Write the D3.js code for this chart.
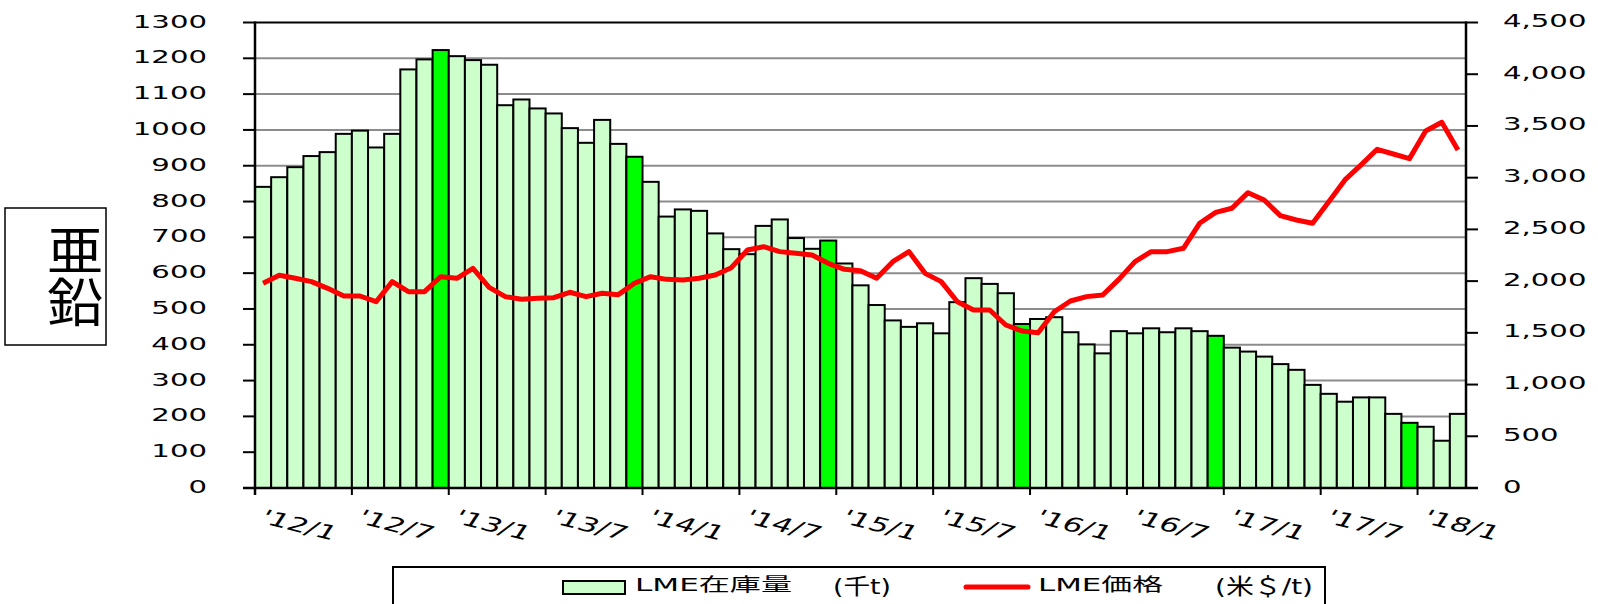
<!DOCTYPE html>
<html lang="ja">
<head>
<meta charset="UTF-8">
<title>亜鉛</title>
<script src="https://d3js.org/d3.v7.min.js"></script>
<style>
  body { margin: 0; background: #fff; }
  text { font-family: "DejaVu Sans", "Noto Sans CJK JP", sans-serif; fill: #000; }
</style>
</head>
<body>
<svg id="chart" width="1598" height="604"></svg>
<script>
// months Jan 2012 - Mar 2018
const months = [
  "12/1","12/2","12/3","12/4","12/5","12/6","12/7","12/8","12/9","12/10","12/11","12/12",
  "13/1","13/2","13/3","13/4","13/5","13/6","13/7","13/8","13/9","13/10","13/11","13/12",
  "14/1","14/2","14/3","14/4","14/5","14/6","14/7","14/8","14/9","14/10","14/11","14/12",
  "15/1","15/2","15/3","15/4","15/5","15/6","15/7","15/8","15/9","15/10","15/11","15/12",
  "16/1","16/2","16/3","16/4","16/5","16/6","16/7","16/8","16/9","16/10","16/11","16/12",
  "17/1","17/2","17/3","17/4","17/5","17/6","17/7","17/8","17/9","17/10","17/11","17/12",
  "18/1","18/2","18/3"
];
// LME stock (千t)
const stock = [
  841,868,896,927,938,989,998,951,989,1169,1197,1223,
  1206,1195,1182,1069,1085,1060,1046,1005,964,1028,961,925,
  855,758,778,774,711,667,653,732,750,698,668,691,
  627,566,511,468,450,460,432,519,586,570,544,458,
  472,477,435,401,376,438,432,446,435,446,438,425,
  392,381,367,346,330,288,263,241,253,253,207,182,
  171,132,207
];
// LME price (米$/t)
const price = [
  1979,2056,2027,1995,1930,1856,1856,1801,1995,1898,1898,2043,
  2027,2124,1940,1850,1824,1834,1840,1892,1850,1882,1869,1979,
  2043,2017,2011,2027,2059,2130,2301,2333,2285,2269,2253,2172,
  2114,2101,2027,2188,2285,2075,1995,1801,1721,1721,1576,1518,
  1501,1704,1808,1850,1866,2017,2188,2285,2285,2317,2559,2665,
  2704,2855,2784,2633,2591,2559,2768,2978,3123,3274,3229,3184,
  3451,3535,3268
];
const tickMonths = ["12/1","12/7","13/1","13/7","14/1","14/7","15/1","15/7","16/1","16/7","17/1","17/7","18/1"];
const tickLabels = ["'12/1","'12/7","'13/1","'13/7","'14/1","'14/7","'15/1","'15/7","'16/1","'16/7","'17/1","'17/7","'18/1"];
const leftTicks = d3.range(0, 1301, 100);
const rightTicks = d3.range(0, 4501, 500);

const svg = d3.select("#chart");
const pL = 255, pR = 1466, pT = 22.5, pB = 488;
const sx = 1.62; // the original text is wide

const x = d3.scaleBand().domain(months).range([pL, pR]).padding(0);
const y = d3.scaleLinear().domain([0, 1300]).range([pB, pT]);
const y2 = d3.scaleLinear().domain([0, 4500]).range([pB, pT]);

// grid
svg.append("g").selectAll("line").data(leftTicks.filter(d => d > 0 && d < 1300)).join("line")
  .attr("x1", pL).attr("x2", pR)
  .attr("y1", d => y(d)).attr("y2", d => y(d))
  .attr("stroke", "#8c8c8c").attr("stroke-width", 2);

// bars
svg.append("g").selectAll("rect").data(months).join("rect")
  .attr("x", d => x(d)).attr("width", x.bandwidth())
  .attr("y", (d, i) => y(stock[i])).attr("height", (d, i) => pB - y(stock[i]))
  .attr("fill", d => d.endsWith("/12") ? "#00ff00" : "#ccffcc")
  .attr("stroke", "#000").attr("stroke-width", 2);

// price line
const line = d3.line().x((d, i) => x(months[i]) + x.bandwidth() / 2).y(d => y2(d));
svg.append("path").datum(price).attr("d", line)
  .attr("fill", "none").attr("stroke", "#ff0000").attr("stroke-width", 5)
  .attr("stroke-linejoin", "round");

// frame / axes
const ax = svg.append("g").attr("stroke", "#000");
ax.append("line").attr("x1", pL).attr("x2", pR).attr("y1", pT).attr("y2", pT).attr("stroke-width", 2);
ax.append("line").attr("x1", pL).attr("x2", pL).attr("y1", pT - 1).attr("y2", pB + 7).attr("stroke-width", 2.5);
ax.append("line").attr("x1", pR).attr("x2", pR).attr("y1", pT - 1).attr("y2", pB).attr("stroke-width", 2.5);
ax.append("line").attr("x1", pL - 12).attr("x2", pR + 12).attr("y1", pB).attr("y2", pB).attr("stroke-width", 2.5);

ax.selectAll(".lt").data(leftTicks).join("line").attr("class", "lt")
  .attr("x1", pL - 12).attr("x2", pL).attr("y1", d => y(d)).attr("y2", d => y(d)).attr("stroke-width", 2);
ax.selectAll(".rt").data(rightTicks).join("line").attr("class", "rt")
  .attr("x1", pR).attr("x2", pR + 12).attr("y1", d => y2(d)).attr("y2", d => y2(d)).attr("stroke-width", 2);
ax.selectAll(".bt").data(tickMonths).join("line").attr("class", "bt")
  .attr("x1", d => x(d)).attr("x2", d => x(d)).attr("y1", pB).attr("y2", pB + 7).attr("stroke-width", 2);

// tick labels
svg.append("g").selectAll("text").data(leftTicks).join("text")
  .attr("transform", d => `translate(207,${y(d) + 5}) scale(${sx},1)`)
  .attr("text-anchor", "end").attr("font-size", 18).text(d => d);

const fmt = d3.format(",");
svg.append("g").selectAll("text").data(rightTicks).join("text")
  .attr("transform", d => `translate(1503,${y2(d) + 4.5}) scale(${sx},1)`)
  .attr("font-size", 18).text(d => fmt(d));

svg.append("g").selectAll("text").data(tickMonths).join("text")
  .attr("transform", (d, i) => `translate(${x(d) + 3},522) scale(1.62,1) rotate(22)`)
  .attr("font-size", 19.5).text((d, i) => tickLabels[i]);

// metal name box (vertical text)
svg.append("rect").attr("x", 5).attr("y", 208).attr("width", 101).attr("height", 137)
  .attr("fill", "none").attr("stroke", "#000").attr("stroke-width", 1.5);
svg.append("text")
  .attr("transform", "translate(70,276) scale(1.08,1)")
  .attr("writing-mode", "vertical-rl").attr("text-anchor", "middle")
  .attr("font-family", "Noto Sans CJK JP").attr("font-size", 52)
  .text("亜鉛");

// legend
const lg = svg.append("g");
lg.append("rect").attr("x", 393).attr("y", 567).attr("width", 932).attr("height", 60)
  .attr("fill", "#fff").attr("stroke", "#000").attr("stroke-width", 2);
lg.append("rect").attr("x", 563).attr("y", 581).attr("width", 62).attr("height", 13)
  .attr("fill", "#ccffcc").attr("stroke", "#000").attr("stroke-width", 2);
lg.append("line").attr("x1", 966).attr("x2", 1028).attr("y1", 587).attr("y2", 587)
  .attr("stroke", "#ff0000").attr("stroke-width", 5).attr("stroke-linecap", "round");
const legendTexts = [
  { t: "LME在庫量", x: 635, w: 157, s: 18, b: 591 },
  { t: "(千t)", x: 833, w: 58, s: 22, b: 594 },
  { t: "LME価格", x: 1038, w: 125, s: 18, b: 591 },
  { t: "(米＄/t)", x: 1215, w: 98, s: 22, b: 594 }
];
lg.selectAll("text").data(legendTexts).join("text")
  .attr("x", d => d.x).attr("y", d => d.b).attr("font-size", d => d.s)
  .attr("font-family", d => d.s > 20 ? "Noto Sans CJK JP" : null)
  .attr("textLength", d => d.w).attr("lengthAdjust", "spacingAndGlyphs")
  .text(d => d.t);
</script>
</body>
</html>
